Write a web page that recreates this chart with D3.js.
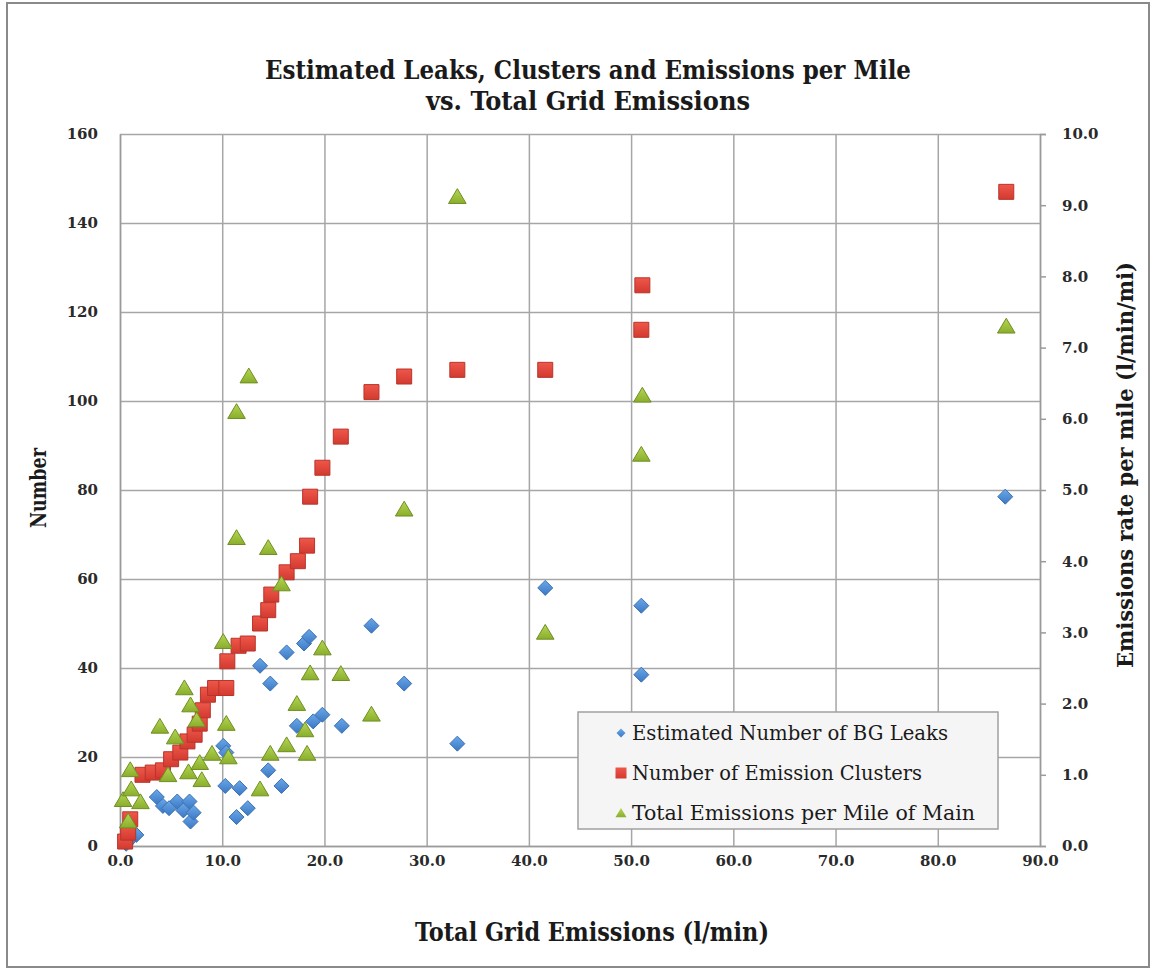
<!DOCTYPE html>
<html>
<head>
<meta charset="utf-8">
<script src="https://cdn.jsdelivr.net/npm/d3@7"></script>
<style>
  body { margin: 0; background: #fff; }
  .tick text { font-family: "DejaVu Serif", serif; font-size: 15px; font-weight: bold; fill: #2a2a2a; }
</style>
</head>
<body>
<div id="chart"></div>
<script>
// data: [total grid emissions, value]
var leaks = [
  [0.6, 0.5], [1.0, 1.5], [1.6, 2.5], [3.6, 11], [4.2, 9], [4.8, 8.5], [5.6, 10], [6.2, 8],
  [6.8, 10], [6.9, 5.5], [7.2, 7.5], [10.1, 22.5], [10.4, 21], [10.3, 13.5], [11.7, 13],
  [11.4, 6.5], [12.5, 8.5], [13.7, 40.5], [14.7, 36.5], [14.5, 17], [15.8, 13.5], [16.3, 43.5],
  [17.3, 27], [18.0, 45.5], [18.5, 47], [18.9, 28], [19.8, 29.5], [21.7, 27], [24.6, 49.5],
  [27.8, 36.5], [33.0, 23], [41.6, 58], [51.0, 54], [51.0, 38.5], [86.6, 78.5]
];
var clusters = [
  [0.5, 1], [0.8, 3], [1.0, 6], [2.2, 16], [3.2, 16.5], [4.2, 17], [5.0, 19.5], [5.9, 21],
  [6.6, 23.5], [7.3, 25], [7.8, 27.5], [8.1, 30.5], [8.6, 34], [9.3, 35.5], [10.4, 35.5],
  [10.5, 41.5], [11.6, 45], [12.5, 45.5], [13.7, 50], [14.5, 53], [14.8, 56.5], [16.3, 61.5],
  [17.4, 64], [18.3, 67.5], [18.6, 78.5], [19.8, 85], [21.6, 92], [24.6, 102], [27.8, 105.5],
  [33.0, 107], [41.6, 107], [51.0, 116], [51.1, 126], [86.7, 147]
];
// right axis (l/min/mi)
var perMile = [
  [0.3, 0.65], [0.8, 0.35], [1.0, 1.07], [1.1, 0.8], [2.0, 0.62], [3.9, 1.68], [4.7, 1.0],
  [5.4, 1.53], [6.3, 2.22], [6.7, 1.04], [6.9, 1.98], [7.5, 1.77], [7.8, 1.17], [8.0, 0.93],
  [9.0, 1.3], [10.1, 2.87], [10.4, 1.72], [10.6, 1.25], [11.4, 4.33], [11.4, 6.1], [12.6, 6.6],
  [13.7, 0.8], [14.5, 4.19], [14.7, 1.3], [15.8, 3.68], [16.3, 1.42], [17.3, 2.0], [18.1, 1.63],
  [18.3, 1.3], [18.6, 2.43], [19.8, 2.78], [21.6, 2.42], [24.6, 1.85], [27.8, 4.73], [33.0, 9.12],
  [41.6, 3.0], [51.0, 5.5], [51.1, 6.33], [86.7, 7.3]
];
var xTicks = [0, 10, 20, 30, 40, 50, 60, 70, 80, 90];
var yTicks = [0, 20, 40, 60, 80, 100, 120, 140, 160];
var y2Ticks = [0, 1, 2, 3, 4, 5, 6, 7, 8, 9, 10];
var legendLabels = ["Estimated Number of BG Leaks", "Number of Emission Clusters", "Total Emissions per Mile of Main"];

var svgWidth = 1154;
var svgHeight = 972;
var margin = { top: 134, right: 114, bottom: 126, left: 120 };
var chartWidth = svgWidth - margin.left - margin.right;
var chartHeight = svgHeight - margin.top - margin.bottom;

var svg = d3.select("#chart").append("svg")
  .attr("width", svgWidth)
  .attr("height", svgHeight);

// gradients for the glossy excel markers
var defs = svg.append("defs");
function grad(id, top, bottom) {
  var g = defs.append("linearGradient").attr("id", id)
    .attr("x1", 0).attr("y1", 0).attr("x2", 0).attr("y2", 1);
  g.append("stop").attr("offset", "0%").attr("stop-color", top);
  g.append("stop").attr("offset", "100%").attr("stop-color", bottom);
}
grad("gBlue", "#6aa8ea", "#3b78c4");
grad("gRed", "#f0574a", "#d23a30");
grad("gGreen", "#b4d654", "#8aae2c");

// outer frame
svg.append("rect")
  .attr("x", 7).attr("y", 3)
  .attr("width", 1142).attr("height", 964)
  .attr("fill", "#fff")
  .attr("stroke", "#8a8a8a")
  .attr("stroke-width", 2);

var chartGroup = svg.append("g")
  .attr("transform", `translate(${margin.left}, ${margin.top})`);

var xScale = d3.scaleLinear().domain([0, 90]).range([0, chartWidth]);
var yScale = d3.scaleLinear().domain([0, 160]).range([chartHeight, 0]);
var y2Scale = d3.scaleLinear().domain([0, 10]).range([chartHeight, 0]);

// gridlines
chartGroup.append("g")
  .attr("class", "grid")
  .call(d3.axisLeft(yScale).tickValues(yTicks).tickSize(-chartWidth).tickFormat(""))
  .call(g => g.select(".domain").remove())
  .selectAll("line").attr("stroke", "#a6a6a6").attr("stroke-width", 1.5);

chartGroup.append("g")
  .attr("class", "grid")
  .attr("transform", `translate(0, ${chartHeight})`)
  .call(d3.axisBottom(xScale).tickValues(xTicks).tickSize(-chartHeight).tickFormat(""))
  .call(g => g.select(".domain").remove())
  .selectAll("line").attr("stroke", "#a6a6a6").attr("stroke-width", 1.5);

// axes
var yAxisGroup = chartGroup.append("g")
  .call(d3.axisLeft(yScale).tickValues(yTicks).tickSize(0).tickPadding(22).tickFormat(d3.format("d")));
yAxisGroup.select(".domain").attr("stroke", "#9a9a9a").attr("stroke-width", 1.5);

var xAxisGroup = chartGroup.append("g")
  .attr("transform", `translate(0, ${chartHeight})`)
  .call(d3.axisBottom(xScale).tickValues(xTicks).tickSize(0).tickPadding(9).tickFormat(d3.format(".1f")));
xAxisGroup.select(".domain").attr("stroke", "#9a9a9a").attr("stroke-width", 1.5);

var y2AxisGroup = chartGroup.append("g")
  .attr("transform", `translate(${chartWidth}, 0)`)
  .call(d3.axisRight(y2Scale).tickValues(y2Ticks).tickSize(6).tickPadding(16).tickFormat(d3.format(".1f")));
y2AxisGroup.select(".domain").attr("stroke", "#9a9a9a").attr("stroke-width", 1.5);
y2AxisGroup.selectAll(".tick line").attr("stroke", "#9a9a9a").attr("stroke-width", 1.5);

// marker shapes
function diamond(s) { return `M0,${-s}L${s},0L0,${s}L${-s},0Z`; }
function square(s) { return `M${-s},${-s}H${s}V${s}H${-s}Z`; }
function triangle(s) { return `M0,${-s}L${s * 1.1},${s * 0.85}H${-s * 1.1}Z`; }

var marks = chartGroup.append("g");

marks.append("g").selectAll("path")
  .data(leaks)
  .enter()
  .append("path")
  .attr("transform", d => `translate(${xScale(d[0])}, ${yScale(d[1])})`)
  .attr("d", diamond(7.5))
  .attr("fill", "url(#gBlue)")
  .attr("stroke", "#3d70b0")
  .attr("stroke-width", 1);

marks.append("g").selectAll("path")
  .data(clusters)
  .enter()
  .append("path")
  .attr("transform", d => `translate(${xScale(d[0])}, ${yScale(d[1])})`)
  .attr("d", square(7.5))
  .attr("fill", "url(#gRed)")
  .attr("stroke", "#b8342b")
  .attr("stroke-width", 1);

marks.append("g").selectAll("path")
  .data(perMile)
  .enter()
  .append("path")
  .attr("transform", d => `translate(${xScale(d[0])}, ${y2Scale(d[1])})`)
  .attr("d", triangle(8))
  .attr("fill", "url(#gGreen)")
  .attr("stroke", "#6f8f22")
  .attr("stroke-width", 1);

var titleFont = "'DejaVu Serif Condensed', 'DejaVu Serif', serif";

// bold condensed label squeezed to the width seen in the picture
function label(parent, txt, size, width) {
  return parent.append("text")
    .attr("text-anchor", "middle")
    .attr("font-family", titleFont).attr("font-stretch", "condensed")
    .attr("font-weight", "bold").attr("font-size", size).attr("fill", "#1a1a1a")
    .attr("textLength", width).attr("lengthAdjust", "spacingAndGlyphs")
    .text(txt);
}

// title
label(svg, "Estimated Leaks, Clusters and Emissions per Mile", 26, 646).attr("x", 588).attr("y", 79);
label(svg, "vs. Total Grid Emissions", 26, 324).attr("x", 588).attr("y", 110);

// axis titles
label(svg, "Total Grid Emissions (l/min)", 26, 354).attr("x", 592).attr("y", 941);
label(svg, "Number", 23, 80).attr("transform", "translate(46, 488) rotate(-90)");
label(svg, "Emissions rate per mile (l/min/mi)", 23, 406).attr("transform", "translate(1133, 465) rotate(-90)");

// legend
var legend = svg.append("g").attr("transform", "translate(578, 712)");
legend.append("rect")
  .attr("width", 420).attr("height", 117)
  .attr("fill", "#f5f5f5")
  .attr("stroke", "#a0a0a0")
  .attr("stroke-width", 1.5);

var legendShapes = [diamond(4.5), square(5.5), triangle(5)];
var legendFills = ["url(#gBlue)", "url(#gRed)", "url(#gGreen)"];
var legendWidths = [316, 290, 343];
var legendRows = legend.selectAll("g.row")
  .data(legendLabels)
  .enter()
  .append("g")
  .attr("class", "row")
  .attr("transform", (d, i) => `translate(43, ${21 + i * 40})`);

legendRows.append("path")
  .attr("d", (d, i) => legendShapes[i])
  .attr("fill", (d, i) => legendFills[i]);

legendRows.append("text")
  .attr("x", 11).attr("y", 7)
  .attr("font-family", titleFont).attr("font-stretch", "condensed")
  .attr("font-size", 20).attr("fill", "#1a1a1a")
  .attr("textLength", (d, i) => legendWidths[i])
  .attr("lengthAdjust", "spacingAndGlyphs")
  .text(d => d);
</script>
</body>
</html>
